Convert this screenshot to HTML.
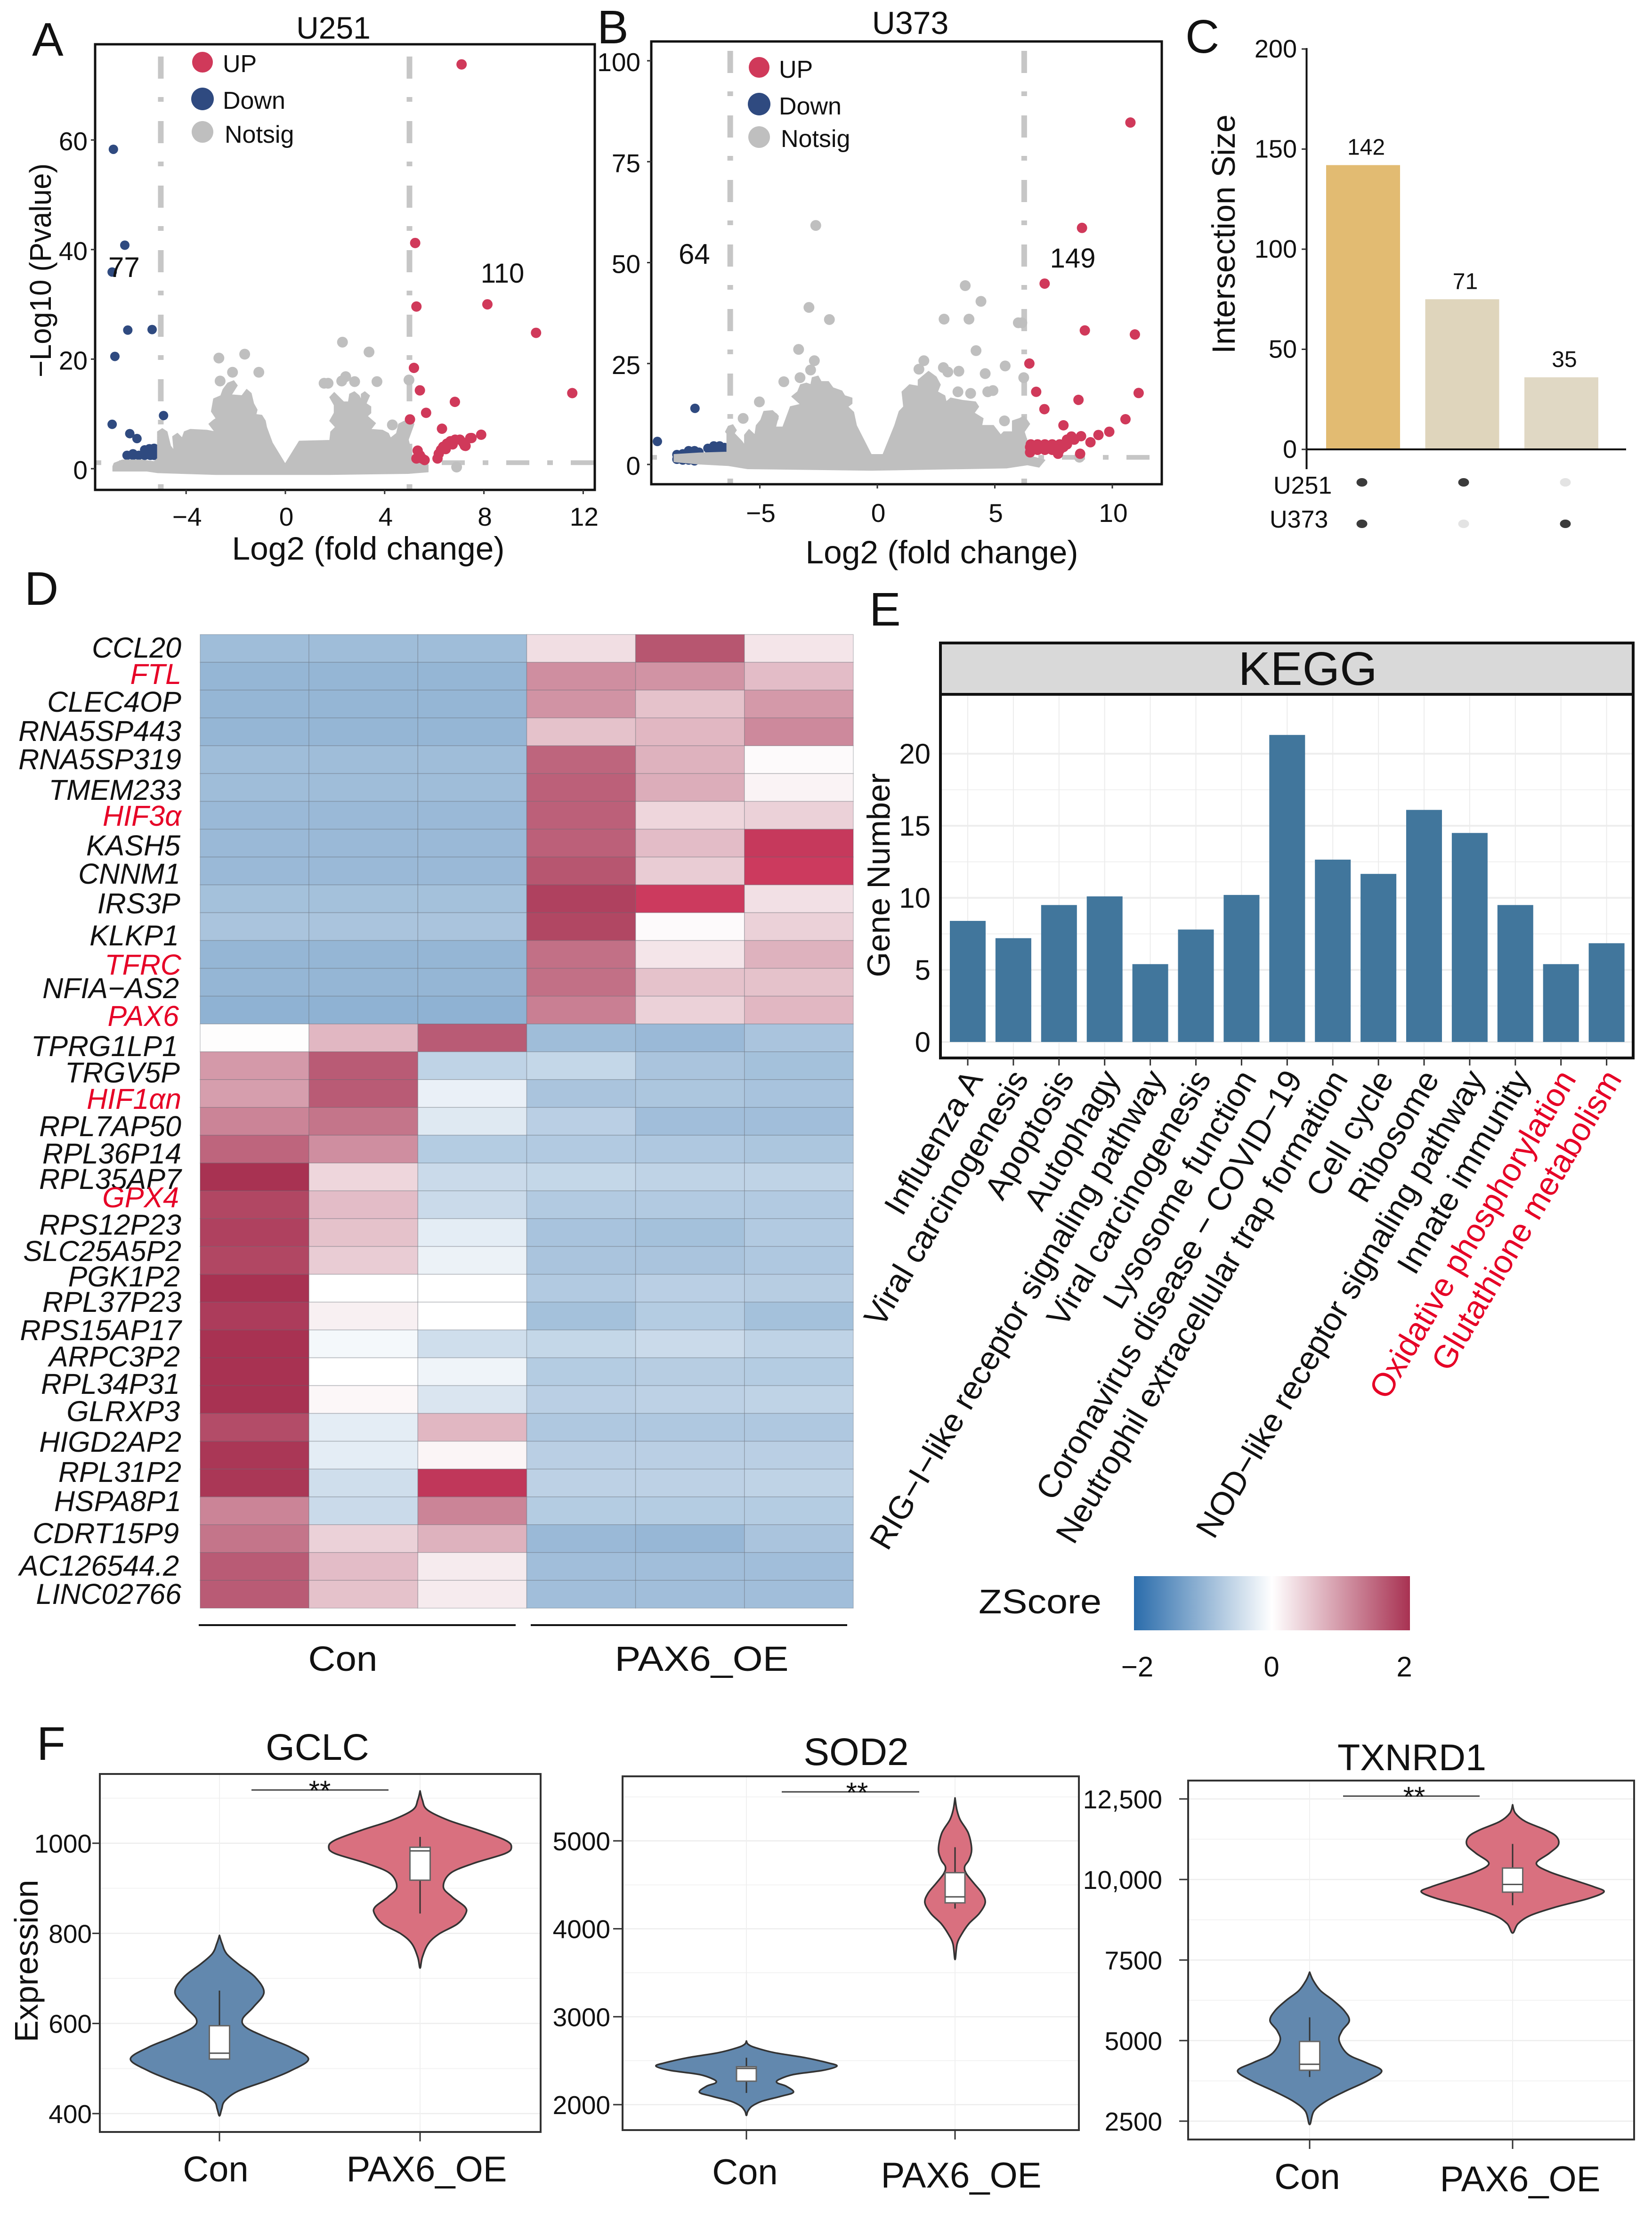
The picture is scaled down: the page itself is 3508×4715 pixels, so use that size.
<!DOCTYPE html>
<html lang="en">
<head>
<meta charset="utf-8">
<title>PAX6 overexpression multi-panel figure</title>
<style>
html,body{margin:0;padding:0;background:#fff;}
svg{display:block;}
text{font-family:"Liberation Sans","DejaVu Sans",sans-serif;fill:#111;}
.gene{font-size:61px;font-style:italic;text-anchor:end;}
.gene.hit{fill:#e60026;}
.letter{font-size:100px;}
</style>
</head>
<body>
<svg id="figure" xmlns="http://www.w3.org/2000/svg" width="3508" height="4715" viewBox="0 0 3508 4715">
  <defs>
    <clipPath id="clip-a"><rect x="202" y="94" width="1061" height="946"/></clipPath>
    <clipPath id="clip-b"><rect x="1383" y="88" width="1084" height="940"/></clipPath>
    <linearGradient id="zscore-gradient" x1="0" x2="1" y1="0" y2="0">
      <stop offset="0" stop-color="#2a6cab"/>
      <stop offset="0.5" stop-color="#ffffff"/>
      <stop offset="1" stop-color="#a83252"/>
    </linearGradient>
  </defs>
  <rect width="3508" height="4715" fill="#fff"/>

  <text class="letter" x="68" y="118">A</text>
  <text class="letter" x="1268" y="92">B</text>
  <text class="letter" x="2517" y="112" font-size="95">C</text>
  <text class="letter" x="52" y="1284">D</text>
  <text class="letter" x="1846" y="1328">E</text>
  <text class="letter" x="78" y="3736">F</text>

  <!-- Panel A -->
  <g id="panel-a"></g>
  <text x="708" y="82" font-size="66" text-anchor="middle">U251</text>
  <text x="782" y="1188" font-size="69" text-anchor="middle" textLength="579" lengthAdjust="spacingAndGlyphs">Log2 (fold change)</text>
  <text transform="translate(108 574) rotate(-90)" font-size="64" text-anchor="middle" textLength="454" lengthAdjust="spacingAndGlyphs">−Log10 (Pvalue)</text>
  <circle cx="430" cy="132" r="22" fill="#d0395a"/>
  <circle cx="430" cy="210" r="24" fill="#2f4a80"/>
  <circle cx="430" cy="280" r="23" fill="#bfbfbf"/>
  <text x="473" y="153" font-size="52">UP</text>
  <text x="473" y="231" font-size="52">Down</text>
  <text x="477" y="303" font-size="52">Notsig</text>
  <text x="230" y="588" font-size="60">77</text>
  <text x="1067" y="600" font-size="58" text-anchor="middle">110</text>

  <!-- Panel B -->
  <g id="panel-b"></g>
  <text x="1933" y="72" font-size="68" text-anchor="middle">U373</text>
  <text x="2000" y="1196" font-size="69" text-anchor="middle" textLength="579" lengthAdjust="spacingAndGlyphs">Log2 (fold change)</text>
  <circle cx="1612" cy="143" r="22" fill="#d0395a"/>
  <circle cx="1612" cy="221" r="24" fill="#2f4a80"/>
  <circle cx="1612" cy="291" r="23" fill="#bfbfbf"/>
  <text x="1654" y="165" font-size="52">UP</text>
  <text x="1654" y="243" font-size="52">Down</text>
  <text x="1658" y="312" font-size="52">Notsig</text>
  <text x="1441" y="560" font-size="60">64</text>
  <text x="2278" y="568" font-size="58" text-anchor="middle">149</text>

  <!-- Panel C -->
  <g id="panel-c"></g>
  <text transform="translate(2622 497) rotate(-90)" font-size="69" text-anchor="middle" textLength="508" lengthAdjust="spacingAndGlyphs">Intersection Size</text>
  <text x="2704" y="1048" font-size="52">U251</text>
  <text x="2696" y="1120" font-size="52">U373</text>

  <!-- Panel D -->
  <g id="panel-d"></g>
  <g>
    <text class="gene" x="385" y="1396">CCL20</text>
    <text class="gene hit" x="385" y="1452">FTL</text>
    <text class="gene" x="385" y="1511">CLEC4OP</text>
    <text class="gene" x="385" y="1573">RNA5SP443</text>
    <text class="gene" x="385" y="1633">RNA5SP319</text>
    <text class="gene" x="385" y="1698">TMEM233</text>
    <text class="gene hit" x="385" y="1753">HIF3α</text>
    <text class="gene" x="383" y="1816">KASH5</text>
    <text class="gene" x="383" y="1876">CNNM1</text>
    <text class="gene" x="383" y="1939">IRS3P</text>
    <text class="gene" x="380" y="2007">KLKP1</text>
    <text class="gene hit" x="385" y="2069">TFRC</text>
    <text class="gene" x="380" y="2119">NFIA−AS2</text>
    <text class="gene hit" x="380" y="2178">PAX6</text>
    <text class="gene" x="378" y="2242">TPRG1LP1</text>
    <text class="gene" x="382" y="2298">TRGV5P</text>
    <text class="gene hit" x="385" y="2354">HIF1αn</text>
    <text class="gene" x="385" y="2412">RPL7AP50</text>
    <text class="gene" x="385" y="2470">RPL36P14</text>
    <text class="gene" x="385" y="2524">RPL35AP7</text>
    <text class="gene hit" x="380" y="2563">GPX4</text>
    <text class="gene" x="385" y="2621">RPS12P23</text>
    <text class="gene" x="385" y="2677">SLC25A5P2</text>
    <text class="gene" x="382" y="2731">PGK1P2</text>
    <text class="gene" x="385" y="2785">RPL37P23</text>
    <text class="gene" x="385" y="2845">RPS15AP17</text>
    <text class="gene" x="382" y="2901">ARPC3P2</text>
    <text class="gene" x="382" y="2959">RPL34P31</text>
    <text class="gene" x="382" y="3017">GLRXP3</text>
    <text class="gene" x="385" y="3082">HIGD2AP2</text>
    <text class="gene" x="385" y="3146">RPL31P2</text>
    <text class="gene" x="385" y="3208">HSPA8P1</text>
    <text class="gene" x="380" y="3276">CDRT15P9</text>
    <text class="gene" x="380" y="3345">AC126544.2</text>
    <text class="gene" x="385" y="3405">LINC02766</text>
  </g>
  <line x1="422" x2="1095" y1="3450" y2="3450" stroke="#111" stroke-width="4"/>
  <line x1="1127" x2="1799" y1="3450" y2="3450" stroke="#111" stroke-width="4"/>
  <text x="728" y="3547" font-size="74" text-anchor="middle" textLength="147" lengthAdjust="spacingAndGlyphs">Con</text>
  <text x="1490" y="3547" font-size="74" text-anchor="middle" textLength="369" lengthAdjust="spacingAndGlyphs">PAX6_OE</text>

  <!-- Panel E -->
  <g id="panel-e"></g>
  <text x="2777" y="1454" font-size="100" text-anchor="middle" textLength="295" lengthAdjust="spacingAndGlyphs">KEGG</text>
  <text transform="translate(1889 1858) rotate(-90)" font-size="68" text-anchor="middle" textLength="433" lengthAdjust="spacingAndGlyphs">Gene Number</text>

  <!-- ZScore legend -->
  <text x="2078" y="3425" font-size="72" textLength="261" lengthAdjust="spacingAndGlyphs">ZScore</text>
  <rect x="2408" y="3346" width="586" height="115" fill="url(#zscore-gradient)"/>
  <text x="2415" y="3559" font-size="60" text-anchor="middle">−2</text>
  <text x="2700" y="3559" font-size="60" text-anchor="middle">0</text>
  <text x="2982" y="3559" font-size="60" text-anchor="middle">2</text>

  <!-- Panel F -->
  <g id="panel-f1"></g>
  <g id="panel-f2"></g>
  <g id="panel-f3"></g>
  <text x="674" y="3736" font-size="79" text-anchor="middle">GCLC</text>
  <text x="1818" y="3747" font-size="82" text-anchor="middle">SOD2</text>
  <text x="2998" y="3758" font-size="79" text-anchor="middle">TXNRD1</text>
  <text transform="translate(80 4163) rotate(-90)" font-size="70" text-anchor="middle" textLength="345" lengthAdjust="spacingAndGlyphs">Expression</text>
  <text x="458" y="4631" font-size="76" text-anchor="middle">Con</text>
  <text x="906" y="4631" font-size="76" text-anchor="middle">PAX6_OE</text>
  <text x="1582" y="4637" font-size="76" text-anchor="middle">Con</text>
  <text x="2041" y="4644" font-size="76" text-anchor="middle">PAX6_OE</text>
  <text x="2776" y="4647" font-size="76" text-anchor="middle">Con</text>
  <text x="3228" y="4652" font-size="76" text-anchor="middle">PAX6_OE</text>
</svg>

<script>
/* ---------- Panel A data (U251) ---------- */
const aXTicks = [-4, 0, 4, 8, 12];
const aYTicks = [0, 20, 40, 60];
const aUpX = [7.1, 5.23, 5.28, 8.14, 10.1, 5.18, 5.42, 11.56, 6.83, 5.67, 5.02, 6.31, 7.89, 7.5, 7.23, 6.13, 6.18, 6.27, 6.36, 6.51, 6.65, 6.84, 7.03, 7.26, 7.17, 7.45, 6.46, 6.74, 5.33, 5.42, 5.28, 5.51, 5.61];
const aUpY = [73.8, 41.2, 29.6, 30, 24.8, 18.4, 14.3, 13.8, 12.2, 10.2, 9, 7.3, 6.2, 5.6, 4.2, 1.86, 2.72, 3.44, 4.01, 4.58, 5.02, 5.3, 5.3, 4.16, 4.73, 5.59, 3.58, 4.44, 3.3, 2.44, 1.86, 1.86, 1.58];
const aDownX = [-6.93, -6.47, -6.98, -6.35, -5.37, -6.87, -4.91, -6.98, -6.27, -5.98, -6.38, -6.14, -5.91, -5.67, -5.44, -5.29, -5.67, -5.48, -5.29, -6.14];
const aDownY = [58.3, 40.8, 35.9, 25.3, 25.4, 20.5, 9.7, 8.1, 6.4, 5.5, 2.44, 2.44, 2.44, 2.44, 2.44, 2.44, 3.44, 3.64, 3.72, 2.72];
const aNotsigX = [-2.68, -1.64, -2.13, -1.07, -2.63, 2.3, 3.37, 1.56, 1.72, 2.27, 2.43, 2.79, 3.69, 4.98, 4.31, 6.9];
const aNotsigY = [20.2, 20.9, 17.6, 17.6, 16, 23.1, 21.3, 15.6, 15.6, 16, 16.8, 15.9, 15.9, 16.2, 8, 0.3];
const aCloudX = [-6.95, -6.9, -6.57, -5.81, -5.29, -5.15, -5.15, -4.96, -4.77, -4.63, -4.49, -4.54, -4.35, -4.16, -4.07, -3.83, -3.17, -2.84, -3.08, -2.89, -2.79, -2.98, -2.89, -2.6, -2.51, -2.32, -2.08, -1.94, -2.18, -1.75, -1.56, -1.38, -1.28, -1.14, -1.19, -0.95, -0.81, -0.76, -0.53, -0.01, 0.56, 1.79, 1.83, 2.02, 1.79, 1.97, 1.97, 1.79, 1.97, 2.16, 2.35, 2.54, 2.59, 2.78, 2.97, 3.06, 3.06, 3.2, 3.39, 3.25, 3.44, 3.44, 3.3, 3.63, 3.44, 3.91, 4.15, 4.24, 4.48, 4.57, 4.95, 5.18, 4.95, 5.14, 5.75, 5.75, 4.95, 1.74, -2.79, -5.15, -5.58, -6.95];
const aCloudY = [0.43, 1, 1.58, 1.58, 1.29, 1.86, 6.74, 7.31, 6.74, 4.16, 3.3, 5.87, 6.45, 5.59, 6.74, 7.17, 7.02, 6.74, 8.17, 8.88, 9.17, 10.46, 12.75, 13.33, 14.47, 15.62, 16.05, 15.19, 13.47, 13.33, 14.47, 13.76, 11.89, 10.75, 9.89, 9.75, 8.74, 7.59, 4.73, 0.86, 5.02, 5.16, 6.74, 7.59, 8.74, 10.17, 11.61, 13.04, 13.9, 13.04, 12.18, 12.18, 13.61, 14.04, 13.33, 12.47, 13.61, 14.04, 13.33, 11.89, 11.32, 10.17, 9.6, 8.3, 7.17, 7.02, 6.45, 5.59, 6.45, 8.17, 9.03, 8.17, 5.3, 1.86, 0.72, -0.57, -0.86, -1.06, -1.06, -0.72, -0.43, -0.43];
const aThresholdX = [-5.02, 5];
const aThresholdY = [1.1];

/* ---------- Panel B data (U373) ---------- */
const bXTicks = [-5, 0, 5, 10];
const bYTicks = [0, 25, 50, 75, 100];
const bUpX = [10.77, 8.71, 7.12, 8.83, 10.96, 6.47, 6.76, 11.12, 8.56, 7.11, 10.56, 7.92, 9.87, 9.41, 8.67, 9.07, 6.53, 6.82, 7.13, 7.44, 7.76, 8.07, 6.53, 6.82, 7.13, 7.44, 7.76, 7.69, 8.26, 8.07, 8.38, 8.63, 6.68, 6.98, 7.29, 7.6, 7.92, 6.5, 6.5];
const bUpY = [84.7, 58.6, 44.8, 33.2, 32.2, 25, 18, 17.7, 16, 13.7, 11.2, 9.7, 8.1, 7.3, 7, 5.5, 4.98, 4.98, 4.98, 4.98, 4.98, 4.98, 3.62, 3.62, 3.62, 3.62, 3.62, 2.65, 6.92, 6.15, 6.15, 2.65, 4.3, 4.3, 4.3, 4.3, 4.3, 4.3, 3];
const bDownX = [-7.76, -9.36, -8.53, -8.28, -8.03, -7.78, -7.59, -7.21, -6.96, -6.71, -6.5, -6.77, -7.09, -6.5, -7.96, -8.53, -8.28, -8.03, -7.78];
const bDownY = [13.9, 5.7, 2.45, 2.64, 3.42, 3.42, 3.03, 4, 4.59, 4.59, 4.2, 3.62, 3.62, 3.42, 2.84, 1.28, 1.09, 1.09, 0.89];
const bNotsigX = [-2.62, 3.74, 4.41, -2.91, -2.04, 2.84, 3.9, 6, 6.15, 4.2, -3.35, -2.68, -2.84, 1.98, 1.77, 2.81, 3, 3.47, 4.59, 5.44, 6.23, -3.29, -3.98, 3.43, 3.97, 4.7, 4.92, -5.02, -5.71, -4.6, -4.43, 5.41, 8.6];
const bNotsigY = [59.2, 44.3, 40.4, 38.9, 35.9, 36, 36, 35.1, 35.1, 28.2, 28.5, 25.7, 23.4, 25.7, 23.6, 24, 22.9, 23.1, 22.5, 24.4, 21.5, 21.5, 20.5, 18, 17.6, 18, 18.3, 15.5, 11.4, 11.8, 11.6, 10.8, 1.8];
const bCloudX = [-8.65, -7.59, -6.4, -6.4, -6.46, -6.34, -6.15, -6, -6.09, -5.77, -5.65, -5.65, -5.46, -5.21, -5.15, -4.96, -4.83, -4.46, -4.21, -4.33, -4.02, -3.7, -3.27, -3.64, -3.39, -3.27, -3.02, -2.83, -2.77, -2.52, -2.39, -2.08, -1.89, -1.51, -1.39, -1.08, -1.08, -1.26, -1.01, -0.89, -0.26, 0.24, 0.74, 0.93, 1.12, 1.05, 1.37, 1.74, 1.74, 2.18, 2.5, 2.68, 2.56, 2.87, 2.93, 3.12, 3.62, 4.18, 4.31, 4.12, 4.5, 4.44, 4.94, 5.25, 5.38, 5.75, 5.75, 6.06, 6.25, 6.48, 6.25, 6.38, 6.38, 7.13, 6.88, 6.38, 5.5, -0.26, -5.52, -6.34, -7.59, -8.65];
const bCloudY = [2.45, 2.84, 3.03, 7.7, 8.09, 9.45, 9.84, 8.48, 7.7, 5.76, 4.78, 7.31, 8.67, 7.31, 9.65, 11.01, 13.15, 13.34, 11.98, 9.26, 9.26, 14.31, 14.9, 16.84, 18.01, 19.76, 20.15, 19.76, 21.51, 21.9, 20.53, 20.53, 18.98, 18.2, 17.03, 16.45, 15.09, 14.31, 12.95, 9.65, 2.45, 2.45, 9.65, 13.15, 14.31, 18.01, 19.76, 19.37, 20.93, 23.06, 21.7, 19.76, 18.01, 17.03, 15.48, 16.45, 15.87, 15.48, 14.31, 12.76, 11.4, 9.65, 9.65, 7.31, 8.09, 8.09, 10.81, 11.4, 11.98, 10.03, 8.09, 5.76, 2.25, 1.09, -0.66, -0.08, -0.86, -1.44, -1.05, -0.27, 0.12, 0.7];
const bThresholdX = [-6.26, 6.25];
const bThresholdY = [1.77];

/* ---------- Panel C data ---------- */
const upsetTicks = [0, 50, 100, 150, 200];
const upsetHeights = [142, 75, 36];
const upsetPrinted = ['142', '71', '35'];
const upsetU251Member = [1, 1, 0];
const upsetU373Member = [1, 0, 1];

/* ---------- Panel D data (z-scores by row, top to bottom) ---------- */
const heatRows = [
 [-0.9,-0.9,-0.9,0.32,1.65,0.25],
 [-1,-1,-1,1.1,1.05,0.65],
 [-1,-1,-1,1.05,0.6,1],
 [-1,-1,-1,0.6,0.7,1.15],
 [-0.9,-0.9,-0.9,1.5,0.75,0.05],
 [-0.9,-0.9,-0.9,1.55,0.8,0.12],
 [-0.95,-0.95,-0.95,1.55,0.4,0.45],
 [-0.95,-0.95,-0.95,1.55,0.65,2.25],
 [-0.95,-0.95,-0.95,1.65,0.5,2.3],
 [-0.85,-0.85,-0.85,1.85,2.3,0.3],
 [-0.8,-0.8,-0.8,1.8,0.05,0.45],
 [-1,-1,-1,1.4,0.25,0.75],
 [-1,-1,-1,1.4,0.6,0.6],
 [-1.05,-1.05,-1.05,1.25,0.45,0.7],
 [0.02,0.7,1.6,-0.9,-0.95,-0.8],
 [1,1.6,-0.6,-0.55,-0.8,-0.85],
 [0.95,1.6,-0.2,-0.8,-0.78,-0.82],
 [1.2,1.35,-0.3,-0.65,-0.88,-0.88],
 [1.5,1.1,-0.7,-0.72,-0.75,-0.78],
 [2,0.4,-0.5,-0.55,-0.6,-0.6],
 [1.8,0.65,-0.5,-0.72,-0.72,-0.72],
 [1.85,0.6,-0.25,-0.82,-0.85,-0.72],
 [1.8,0.5,-0.18,-0.8,-0.8,-0.75],
 [2,0,0,-0.72,-0.65,-0.68],
 [1.9,0.15,0,-0.85,-0.7,-0.85],
 [2,-0.1,-0.45,-0.55,-0.5,-0.6],
 [2,0,-0.15,-0.7,-0.68,-0.7],
 [2,0.08,-0.35,-0.65,-0.62,-0.6],
 [1.75,-0.25,0.7,-0.75,-0.75,-0.75],
 [1.95,-0.25,0.1,-0.65,-0.65,-0.65],
 [1.95,-0.45,2.2,-0.62,-0.62,-0.6],
 [1.2,-0.5,1.2,-0.7,-0.7,-0.7],
 [1.35,0.45,0.75,-0.95,-0.98,-0.8],
 [1.6,0.65,0.2,-0.88,-0.88,-0.88],
 [1.6,0.6,0.2,-0.88,-0.88,-0.88]
];

/* ---------- Panel E data ---------- */
const keggCategories = ['Influenza A','Viral carcinogenesis','Apoptosis','Autophagy','RIG−I−like receptor signaling pathway','Viral carcinogenesis','Lysosome function','Coronavirus disease − COVID−19','Neutrophil extracellular trap formation','Cell cycle','Ribosome','NOD−like receptor signaling pathway','Innate immunity','Oxidative phosphorylation','Glutathione metabolism'];
const keggValues = [8.4, 7.2, 9.5, 10.1, 5.4, 7.8, 10.2, 21.3, 12.65, 11.66, 16.1, 14.5, 9.5, 5.4, 6.85];
const keggHighlighted = ['Oxidative phosphorylation', 'Glutathione metabolism'];
const keggTicks = [0, 5, 10, 15, 20];
const keggMinorTicks = [2.5, 7.5, 12.5, 17.5];

/* ---------- Panel F data ---------- */
const gclcTicks = [400, 600, 800, 1000];
const gclcMinor = [500, 700, 900, 1100];
const gclcConValues = [795.5, 777, 755, 732, 703, 669, 636, 610, 591, 569, 547, 521, 495, 473, 450, 428, 410, 395];
const gclcConDensity = [0, 0.03, 0.08, 0.21, 0.4, 0.5, 0.38, 0.26, 0.3, 0.53, 0.8, 1, 0.8, 0.53, 0.21, 0.06, 0.025, 0];
const gclcOeValues = [1116, 1096, 1074, 1051, 1029, 1007, 992, 977, 955, 933, 903, 881, 859, 844, 821, 799, 777, 747, 723];
const gclcOeDensity = [0, 0.025, 0.08, 0.31, 0.64, 0.93, 1, 0.93, 0.58, 0.33, 0.255, 0.35, 0.49, 0.5, 0.41, 0.21, 0.09, 0.025, 0];
const gclcConBox = [521, 521, 534, 595, 673];
const gclcOeBox = [844, 918, 983, 991, 1014];

const sod2Ticks = [2000, 3000, 4000, 5000];
const sod2Minor = [2500, 3500, 4500, 5500];
const sod2ConValues = [2724, 2686, 2648, 2591, 2534, 2476, 2438, 2389, 2343, 2286, 2248, 2210, 2141, 2095, 2038, 1981, 1924, 1878];
const sod2ConDensity = [0, 0.02, 0.1, 0.31, 0.65, 0.9, 1, 0.84, 0.52, 0.36, 0.34, 0.44, 0.52, 0.38, 0.17, 0.06, 0.015, 0];
const sod2OeValues = [5488, 5355, 5240, 5088, 4905, 4783, 4707, 4630, 4516, 4402, 4295, 4173, 4058, 3944, 3830, 3651];
const sod2OeDensity = [0, 0.06, 0.17, 0.44, 0.55, 0.46, 0.32, 0.37, 0.63, 0.9, 1, 0.8, 0.46, 0.23, 0.07, 0];
const sod2ConBox = [2133, 2267, 2412, 2431, 2534];
const sod2OeBox = [4230, 4295, 4363, 4638, 4928];

const txnrd1Ticks = [2500, 5000, 7500, 10000, 12500];
const txnrd1TickLabels = ['2500', '5000', '7500', '10,000', '12,500'];
const txnrd1Minor = [3750, 6250, 8750, 11250];
const txnrd1ConValues = [7124, 6864, 6552, 6240, 5929, 5617, 5305, 4994, 4578, 4318, 4059, 3747, 3435, 3123, 2812, 2396];
const txnrd1ConDensity = [0, 0.05, 0.15, 0.33, 0.48, 0.55, 0.45, 0.41, 0.53, 0.78, 1, 0.8, 0.5, 0.23, 0.06, 0];
const txnrd1OeValues = [12318, 12059, 11799, 11539, 11332, 11072, 10812, 10500, 10241, 9981, 9773, 9617, 9409, 9150, 8890, 8630, 8339];
const txnrd1OeDensity = [0, 0.03, 0.14, 0.36, 0.48, 0.5, 0.4, 0.26, 0.4, 0.67, 0.89, 1, 0.83, 0.48, 0.2, 0.06, 0];
const txnrd1ConBox = [3871, 4079, 4266, 4973, 5721];
const txnrd1OeBox = [9202, 9607, 9846, 10355, 11103];

/* ---------- Helpers ---------- */
const NS = 'http://www.w3.org/2000/svg';
function mk(parent, tag, attrs, content) {
  const el = document.createElementNS(NS, tag);
  for (const k in attrs) el.setAttribute(k, attrs[k]);
  if (content !== undefined) el.textContent = content;
  parent.appendChild(el);
  return el;
}
function linear(d0, d1, r0, r1) {
  return function (v) { return r0 + (v - d0) * (r1 - r0) / (d1 - d0); };
}
function fmtMinus(v) { return String(v).replace('-', '−'); }

/* ---------- Volcano ---------- */
function drawVolcano(root, c, d) {
  const x = linear(0, 1, c.x0, c.x0 + c.xUnit);
  const y = linear(0, 1, c.y0, c.y0 - c.yUnit);
  const plot = mk(root, 'g', { 'clip-path': 'url(#' + c.clip + ')' });
  
  

  d.thresholdX.forEach(function (v) {
    const t = mk(plot, 'line', { x1: x(v), x2: x(v), y1: c.dashStartY, y2: c.bottom, stroke: '#c6c6c6', 'stroke-width': 12, 'stroke-dasharray': '47 39 10 41' });
    
    
  });
  d.thresholdY.forEach(function (v) {
    const t = mk(plot, 'line', { x1: c.dashStartX, x2: c.dashEndX, y1: y(v), y2: y(v), stroke: '#c6c6c6', 'stroke-width': 10, 'stroke-dasharray': '49 38 12 38' });
    
    
  });

  d.downX.forEach(function (v, i) {
    const p = mk(plot, 'circle', { cx: x(v), cy: y(d.downY[i]), r: 10, fill: '#2f4a80' });
    
    
  });

  const pts = d.cloudX.map(function (v, i) { return x(v).toFixed(1) + ',' + y(d.cloudY[i]).toFixed(1); });
  const cloud = mk(plot, 'polygon', { points: pts.join(' '), fill: '#bfbfbf', stroke: '#bfbfbf', 'stroke-width': 2, 'stroke-linejoin': 'round' });
  
  

  d.notsigX.forEach(function (v, i) {
    const p = mk(plot, 'circle', { cx: x(v), cy: y(d.notsigY[i]), r: 11.5, fill: '#bfbfbf' });
    
    
  });
  d.upX.forEach(function (v, i) {
    const p = mk(plot, 'circle', { cx: x(v), cy: y(d.upY[i]), r: 11, fill: '#d0395a' });
    
    
  });

  const frame = mk(root, 'rect', { x: c.left, y: c.top, width: c.right - c.left, height: c.bottom - c.top, fill: 'none', stroke: '#111', 'stroke-width': 5 });
  
  

  d.xTicks.forEach(function (v) {
    const t = mk(root, 'line', { x1: x(v), x2: x(v), y1: c.bottom, y2: c.bottom + 9, stroke: '#333', 'stroke-width': 3 });
    
    
    const l = mk(root, 'text', { x: x(v) + 2, y: c.xLabelY, 'font-size': 55, 'text-anchor': 'middle' }, fmtMinus(v));
    
    
  });
  d.yTicks.forEach(function (v) {
    const t = mk(root, 'line', { x1: c.left - 9, x2: c.left, y1: y(v), y2: y(v), stroke: '#333', 'stroke-width': 3 });
    
    
    const l = mk(root, 'text', { x: c.yLabelX, y: y(v) + 22, 'font-size': 55, 'text-anchor': 'end' }, String(v));
    
    
  });
}
drawVolcano(document.getElementById('panel-a'),
  { x0: 606, xUnit: 52.7, y0: 995, yUnit: 11.63, left: 202, right: 1263, top: 94, bottom: 1040, clip: 'clip-a', dashStartY: 120, dashStartX: 116, dashEndX: 1263, xLabelY: 1116, yLabelX: 186 },
  { xTicks: aXTicks, yTicks: aYTicks, upX: aUpX, upY: aUpY, downX: aDownX, downY: aDownY, notsigX: aNotsigX, notsigY: aNotsigY, cloudX: aCloudX, cloudY: aCloudY, thresholdX: aThresholdX, thresholdY: aThresholdY });
drawVolcano(document.getElementById('panel-b'),
  { x0: 1863, xUnit: 49.9, y0: 986, yUnit: 8.57, left: 1383, right: 2467, top: 88, bottom: 1028, clip: 'clip-b', dashStartY: 108, dashStartX: 1296, dashEndX: 2442, xLabelY: 1108, yLabelX: 1360 },
  { xTicks: bXTicks, yTicks: bYTicks, upX: bUpX, upY: bUpY, downX: bDownX, downY: bDownY, notsigX: bNotsigX, notsigY: bNotsigY, cloudX: bCloudX, cloudY: bCloudY, thresholdX: bThresholdX, thresholdY: bThresholdY });

/* ---------- UpSet ---------- */
(function () {
  const root = document.getElementById('panel-c');
  const y = linear(0, 200, 954, 104);
  const barLeft = function (i) { return 2816 + i * 210.5; };
  const barColors = ['#e2bb72', '#dfd5bc', '#e0d8c4'];
  const dotCol = function (i) { return 2892 + i * 216; };
  upsetHeights.forEach(function (v, i) {
    const b = mk(root, 'rect', { x: barLeft(i), y: y(v), width: 157, height: y(0) - y(v), fill: barColors[i] });
    
    
    const l = mk(root, 'text', { x: barLeft(i) + 85, y: y(v) - 22, 'font-size': 48, 'text-anchor': 'middle' }, upsetPrinted[i]);
    
    
    const d1 = mk(root, 'ellipse', { cx: dotCol(i), cy: 1024, rx: 11.5, ry: 9, fill: upsetU251Member[i] ? '#3b3b3b' : '#e3e3e3' });
    
    
    const d2 = mk(root, 'ellipse', { cx: dotCol(i), cy: 1112, rx: 11.5, ry: 9, fill: upsetU373Member[i] ? '#3b3b3b' : '#e3e3e3' });
    
    
  });
  const ax = mk(root, 'line', { x1: 2774.5, x2: 2774.5, y1: 102, y2: 996, stroke: '#111', 'stroke-width': 4 });
  
  
  const ax2 = mk(root, 'line', { x1: 2774, x2: 3453, y1: 954, y2: 954, stroke: '#111', 'stroke-width': 4 });
  
  
  upsetTicks.forEach(function (v) {
    const t = mk(root, 'line', { x1: 2764, x2: 2774, y1: y(v), y2: y(v), stroke: '#333', 'stroke-width': 3 });
    
    
    const l = mk(root, 'text', { x: 2754, y: y(v) + 18, 'font-size': 54, 'text-anchor': 'end' }, String(v));
    
    
  });
})();

/* ---------- Heatmap ---------- */
(function () {
  const root = document.getElementById('panel-d');
  const colX = linear(0, 6, 425, 1812);
  const rowY = linear(0, heatRows.length, 1347, 3414);
  function mix(a, b, t) {
    return 'rgb(' + a.map(function (v, i) { return Math.round(v + (b[i] - v) * t); }).join(',') + ')';
  }
  function zColor(z) {
    if (z < 0) return mix([255, 255, 255], [42, 108, 171], Math.min(-z, 2) / 2);
    if (z <= 2) return mix([255, 255, 255], [168, 50, 82], z / 2);
    return mix([168, 50, 82], [204, 58, 94], Math.min((z - 2) / 0.3, 1));
  }
  heatRows.forEach(function (row, r) {
    row.forEach(function (z, c) {
      const cell = mk(root, 'rect', { x: colX(c), y: rowY(r), width: colX(c + 1) - colX(c), height: rowY(r + 1) - rowY(r), fill: zColor(z), stroke: 'rgba(95,100,110,0.33)', 'stroke-width': 1.6 });
      
      
    });
  });
})();

/* ---------- KEGG bars ---------- */
(function () {
  const root = document.getElementById('panel-e');
  const left = 1997, right = 3468, top = 1365, stripBottom = 1474, bottom = 2246;
  const y = linear(0, 20, 2212, 1600);
  const x = function (i) { return 2055 + i * 96.9; };
  const strip = mk(root, 'rect', { x: left, y: top, width: right - left, height: stripBottom - top, fill: '#d9d9d9', stroke: '#111', 'stroke-width': 6 });
  
  
  keggMinorTicks.forEach(function (v) {
    const g = mk(root, 'line', { x1: left, x2: right, y1: y(v), y2: y(v), stroke: '#f3f3f3', 'stroke-width': 2.5 });
    
    
  });
  keggTicks.forEach(function (v) {
    const g = mk(root, 'line', { x1: left, x2: right, y1: y(v), y2: y(v), stroke: '#eeeeee', 'stroke-width': 4 });
    
    
    const l = mk(root, 'text', { x: 1976, y: y(v) + 21, 'font-size': 60, 'text-anchor': 'end' }, String(v));
    
    
  });
  keggCategories.forEach(function (name, i) {
    const g = mk(root, 'line', { x1: x(i), x2: x(i), y1: stripBottom, y2: bottom, stroke: '#ececec', 'stroke-width': 2 });
    
    
  });
  keggValues.forEach(function (v, i) {
    const b = mk(root, 'rect', { x: x(i) - 38, y: y(v), width: 76, height: y(0) - y(v), fill: '#41769c' });
    
    
  });
  const frame = mk(root, 'rect', { x: left, y: stripBottom, width: right - left, height: bottom - stripBottom, fill: 'none', stroke: '#111', 'stroke-width': 6 });
  
  
  keggCategories.forEach(function (name, i) {
    const t = mk(root, 'line', { x1: x(i), x2: x(i), y1: bottom, y2: bottom + 16, stroke: '#333', 'stroke-width': 3 });
    
    
    const px = x(i) + 34, py = 2290;
    const hit = keggHighlighted.indexOf(name) >= 0;
    const l = mk(root, 'text', { x: px, y: py, 'font-size': 69, 'text-anchor': 'end', transform: 'rotate(-59.5 ' + px.toFixed(1) + ' ' + py + ')', style: hit ? 'fill:#e60026' : 'fill:#111' }, name);
    
    
  });
})();

/* ---------- Violins ---------- */
function smoothPath(points) {
  let d = 'M' + points[0][0].toFixed(1) + ' ' + points[0][1].toFixed(1);
  for (let i = 0; i < points.length - 1; i++) {
    const p0 = points[Math.max(i - 1, 0)], p1 = points[i], p2 = points[i + 1], p3 = points[Math.min(i + 2, points.length - 1)];
    const c1x = p1[0] + (p2[0] - p0[0]) / 6, c1y = p1[1] + (p2[1] - p0[1]) / 6;
    const c2x = p2[0] - (p3[0] - p1[0]) / 6, c2y = p2[1] - (p3[1] - p1[1]) / 6;
    d += 'C' + c1x.toFixed(1) + ' ' + c1y.toFixed(1) + ' ' + c2x.toFixed(1) + ' ' + c2y.toFixed(1) + ' ' + p2[0].toFixed(1) + ' ' + p2[1].toFixed(1);
  }
  return d;
}
function drawViolinPanel(root, c, d) {
  const y = linear(d.ticks[0], d.ticks[d.ticks.length - 1], c.yLow, c.yHigh);
  d.minor.forEach(function (v) {
    const g = mk(root, 'line', { x1: c.left, x2: c.right, y1: y(v), y2: y(v), stroke: '#f3f3f3', 'stroke-width': 2 });
    
    
  });
  d.ticks.forEach(function (v) {
    const g = mk(root, 'line', { x1: c.left, x2: c.right, y1: y(v), y2: y(v), stroke: '#ededed', 'stroke-width': 2.5 });
    
    
  });
  [c.conX, c.oeX].forEach(function (cx) {
    const g = mk(root, 'line', { x1: cx, x2: cx, y1: c.top, y2: c.bottom, stroke: '#f0f0f0', 'stroke-width': 2 });
    
    
  });
  const groups = [
    { cx: c.conX, vals: d.conValues, dens: d.conDensity, half: c.conHalf, fill: '#6288ae', box: d.conBox, boxW: c.boxW },
    { cx: c.oeX, vals: d.oeValues, dens: d.oeDensity, half: c.oeHalf, fill: '#d9707f', box: d.oeBox, boxW: c.boxW }
  ];
  groups.forEach(function (g) {
    const rightSide = g.vals.map(function (v, i) { return [g.cx + g.dens[i] * g.half, y(v)]; });
    const leftSide = g.vals.map(function (v, i) { return [g.cx - g.dens[i] * g.half, y(v)]; }).reverse();
    const shape = mk(root, 'path', { d: smoothPath(rightSide.concat(leftSide.slice(1))) + 'Z', fill: g.fill, stroke: '#333', 'stroke-width': 3.5, 'stroke-linejoin': 'round' });
    
    
    const w = mk(root, 'line', { x1: g.cx, x2: g.cx, y1: y(g.box[4]), y2: y(g.box[0]), stroke: '#333', 'stroke-width': 3 });
    
    
    const b = mk(root, 'rect', { x: g.cx - g.boxW / 2, y: y(g.box[3]), width: g.boxW, height: y(g.box[1]) - y(g.box[3]), fill: '#fff', stroke: '#666', 'stroke-width': 3 });
    
    
    const m = mk(root, 'line', { x1: g.cx - g.boxW / 2, x2: g.cx + g.boxW / 2, y1: y(g.box[2]), y2: y(g.box[2]), stroke: '#555', 'stroke-width': 3 });
    
    
  });
  const frame = mk(root, 'rect', { x: c.left, y: c.top, width: c.right - c.left, height: c.bottom - c.top, fill: 'none', stroke: '#333', 'stroke-width': 4 });
  
  
  d.ticks.forEach(function (v, i) {
    const t = mk(root, 'line', { x1: c.left - c.tickLen, x2: c.left, y1: y(v), y2: y(v), stroke: '#333', 'stroke-width': 3 });
    
    
    const l = mk(root, 'text', { x: c.labelX, y: y(v) + 20, 'font-size': 55, 'text-anchor': 'end' }, d.tickLabels ? d.tickLabels[i] : String(v));
    
    
  });
  [c.conX, c.oeX].forEach(function (cx) {
    const t = mk(root, 'line', { x1: cx, x2: cx, y1: c.bottom, y2: c.bottom + 20, stroke: '#333', 'stroke-width': 3 });
    
    
  });
  const s = mk(root, 'line', { x1: c.sigX1, x2: c.sigX2, y1: c.sigY, y2: c.sigY, stroke: '#444', 'stroke-width': 3 });
  
  
  const st = mk(root, 'text', { x: c.starX, y: c.sigY + 22, 'font-size': 60, 'text-anchor': 'middle' }, '**');
  
  
}
drawViolinPanel(document.getElementById('panel-f1'),
  { left: 212, right: 1148, top: 3766, bottom: 4526, yLow: 4487, yHigh: 3913, conX: 466, oeX: 892, conHalf: 189, oeHalf: 194, boxW: 43, tickLen: 16, labelX: 195, sigX1: 534, sigX2: 825, sigY: 3800, starX: 679 },
  { ticks: gclcTicks, minor: gclcMinor, conValues: gclcConValues, conDensity: gclcConDensity, oeValues: gclcOeValues, oeDensity: gclcOeDensity, conBox: gclcConBox, oeBox: gclcOeBox });
drawViolinPanel(document.getElementById('panel-f2'),
  { left: 1322, right: 2291, top: 3771, bottom: 4522, yLow: 4468, yHigh: 3908, conX: 1585, oeX: 2028, conHalf: 192, oeHalf: 64, boxW: 42, tickLen: 20, labelX: 1296, sigX1: 1660, sigX2: 1952, sigY: 3804, starX: 1820 },
  { ticks: sod2Ticks, minor: sod2Minor, conValues: sod2ConValues, conDensity: sod2ConDensity, oeValues: sod2OeValues, oeDensity: sod2OeDensity, conBox: sod2ConBox, oeBox: sod2OeBox });
drawViolinPanel(document.getElementById('panel-f3'),
  { left: 2523, right: 3470, top: 3780, bottom: 4542, yLow: 4503, yHigh: 3819, conX: 2781, oeX: 3212, conHalf: 153, oeHalf: 194, boxW: 43, tickLen: 19, labelX: 2468, sigX1: 2852, sigX2: 3142, sigY: 3813, starX: 3003 },
  { ticks: txnrd1Ticks, tickLabels: txnrd1TickLabels, minor: txnrd1Minor, conValues: txnrd1ConValues, conDensity: txnrd1ConDensity, oeValues: txnrd1OeValues, oeDensity: txnrd1OeDensity, conBox: txnrd1ConBox, oeBox: txnrd1OeBox });
</script>
</body>
</html>
